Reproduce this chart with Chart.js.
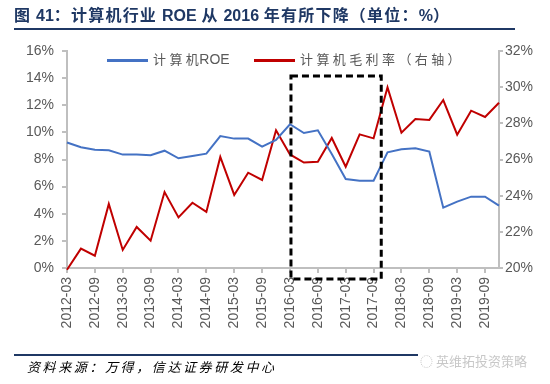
<!DOCTYPE html>
<html>
<head>
<meta charset="utf-8">
<script src="https://cdn.jsdelivr.net/npm/chart.js@4.4.1/dist/chart.umd.min.js"></script>
<style>
    body { margin: 0; background: #fff; }
    #wrap { position: relative; width: 550px; height: 384px; overflow: hidden; font-family: "Noto Sans CJK SC", "Liberation Sans", sans-serif; }
    #chart { position: absolute; left: 0; top: 0; }
    #title { position: absolute; left: 14px; top: 2px; font-size: 16px; font-weight: bold; color: #1f3864; letter-spacing: 1.2px; white-space: nowrap; }
    #title .lat, .legend .lat { font-family: "Liberation Sans Narrow", "Liberation Sans", sans-serif; letter-spacing: 0; }
    #title-line { position: absolute; left: 14px; top: 28px; width: 501px; height: 2px; background: #1f3864; }
    .legend { position: absolute; top: 49px; font-size: 13px; color: #595959; white-space: nowrap; letter-spacing: 3.4px; }
    .legend .lat { font-size: 14px; }
    .legend .tight { letter-spacing: 0.5px; }
    .legend span.swatch { display: inline-block; width: 41px; height: 3px; vertical-align: middle; margin-right: 5px; }
    #foot-line { position: absolute; left: 14px; top: 354px; width: 500px; height: 2px; background: #1f3864; }
    #source { position: absolute; left: 27px; top: 357px; font-size: 13px; font-style: italic; color: #000; letter-spacing: 2.6px; white-space: nowrap; }
    #mark { position: absolute; left: 418px; top: 351px; font-size: 13px; color: #c8c8c8; white-space: nowrap; background: #fff; padding: 0 2px; }
</style>
</head>
<body>
<div id="wrap">
    <canvas id="chart" width="550" height="384"></canvas>
    <div id="title">图 <span class="lat">41</span>：计算机行业 <span class="lat">ROE</span> 从 <span class="lat">2016</span> 年有所下降（单位：<span class="lat">%</span>）</div>
    <div id="title-line"></div>
    <div class="legend" style="left:107px"><span class="swatch" style="background:#4472c4"></span>计算<span class="tight">机</span><span class="lat">ROE</span></div>
    <div class="legend" style="left:254px"><span class="swatch" style="background:#c00000"></span>计算机毛利率（右轴）</div>
    <div id="foot-line"></div>
    <div id="source">资料来源：万得，信达证券研发中心</div>
    <div id="mark">◌ 英维拓投资策略</div>
</div>
<script>
// quarters 2012-03 .. 2019-12
var quarters = [
    "2012-03", "2012-06", "2012-09", "2012-12",
    "2013-03", "2013-06", "2013-09", "2013-12",
    "2014-03", "2014-06", "2014-09", "2014-12",
    "2015-03", "2015-06", "2015-09", "2015-12",
    "2016-03", "2016-06", "2016-09", "2016-12",
    "2017-03", "2017-06", "2017-09", "2017-12",
    "2018-03", "2018-06", "2018-09", "2018-12",
    "2019-03", "2019-06", "2019-09", "2019-12"
];

// ROE, left axis (%)
var roe = [
    9.25, 8.9, 8.72, 8.68, 8.36, 8.36, 8.31, 8.65,
    8.09, 8.26, 8.43, 9.73, 9.54, 9.54, 8.95, 9.44,
    10.6, 9.95, 10.15, 8.4, 6.56, 6.44, 6.44, 8.53,
    8.75, 8.83, 8.58, 4.45, 4.89, 5.26, 5.26, 4.6
];

// gross margin, right axis (%)
var grossMargin = [
    19.9, 21.07, 20.68, 23.54, 21.0, 22.27, 21.51, 24.2,
    22.8, 23.61, 23.1, 26.14, 24.04, 25.27, 24.87, 27.62,
    26.28, 25.83, 25.88, 27.19, 25.6, 27.39, 27.17, 29.99,
    27.48, 28.24, 28.19, 29.29, 27.37, 28.7, 28.35, 29.14
];

var leftTicks = [0, 2, 4, 6, 8, 10, 12, 14, 16];
var rightTicks = [20, 22, 24, 26, 28, 30, 32];

var axisGrey = '#bfbfbf';
var textGrey = '#595959';

// dashed box around 2016-03 .. 2017-09
var boxPlugin = {
    id: 'dashBox',
    afterDatasetsDraw(chart) {
        var x = chart.scales.x, y = chart.scales.y;
        var ctx = chart.ctx;
        var left = x.getPixelForValue(16) + 1;
        var right = x.getPixelForValue(22.55);
        var top = y.getPixelForValue(14.15);
        var bottom = y.getPixelForValue(0) + 11;
        ctx.save();
        ctx.strokeStyle = '#000';
        ctx.lineWidth = 3;
        ctx.setLineDash([7, 4]);
        ctx.strokeRect(left, top, right - left, bottom - top);
        ctx.restore();
    }
};

var ctx = document.getElementById('chart');
var chart = new Chart(ctx, {
    type: 'line',
    data: {
        labels: quarters,
        datasets: [{
            label: '计算机ROE',
            data: roe,
            yAxisID: 'y',
            borderColor: '#4472c4',
            borderWidth: 2,
            pointRadius: 0,
            tension: 0
        }, {
            label: '计算机毛利率（右轴）',
            data: grossMargin,
            yAxisID: 'y1',
            borderColor: '#c00000',
            borderWidth: 2,
            pointRadius: 0,
            tension: 0,
            clip: false
        }]
    },
    options: {
        responsive: false,
        animation: false,
        layout: { padding: { top: 51, left: 0, right: 0, bottom: 0 } },
        plugins: { legend: { display: false }, tooltip: { enabled: false } },
        scales: {
            x: {
                offset: false,
                border: { color: axisGrey, width: 2 },
                grid: {
                    drawOnChartArea: false,
                    tickLength: 5,
                    color: (c) => c.index % 2 === 0 ? axisGrey : 'rgba(0,0,0,0)',
                    lineWidth: 2
                },
                ticks: {
                    autoSkip: false,
                    minRotation: 90,
                    maxRotation: 90,
                    padding: 4,
                    color: textGrey,
                    font: { family: 'Liberation Sans', size: 14 },
                    callback: function (v, i) { return i % 2 === 0 ? quarters[i] : ''; }
                },
                afterFit: function (s) { s.height = 116; }
            },
            y: {
                position: 'left',
                min: 0,
                max: 16,
                border: { color: axisGrey, width: 2 },
                grid: { drawOnChartArea: false, tickLength: 5, color: axisGrey, lineWidth: 2 },
                afterBuildTicks: function (s) { s.ticks = leftTicks.map(v => ({ value: v })); },
                ticks: {
                    padding: 8,
                    color: textGrey,
                    font: { family: 'Liberation Sans', size: 14 },
                    callback: function (v) { return v + '%'; }
                },
                afterFit: function (s) { s.width = 67; }
            },
            y1: {
                position: 'right',
                min: 20,
                max: 32,
                border: { color: axisGrey, width: 2 },
                grid: { drawOnChartArea: false, tickLength: 4, color: axisGrey, lineWidth: 2 },
                afterBuildTicks: function (s) { s.ticks = rightTicks.map(v => ({ value: v })); },
                ticks: {
                    padding: 2,
                    color: textGrey,
                    font: { family: 'Liberation Sans', size: 14 },
                    callback: function (v) { return v + '%'; }
                },
                afterFit: function (s) { s.width = 51; }
            }
        }
    },
    plugins: [boxPlugin]
});
</script>
</body>
</html>
